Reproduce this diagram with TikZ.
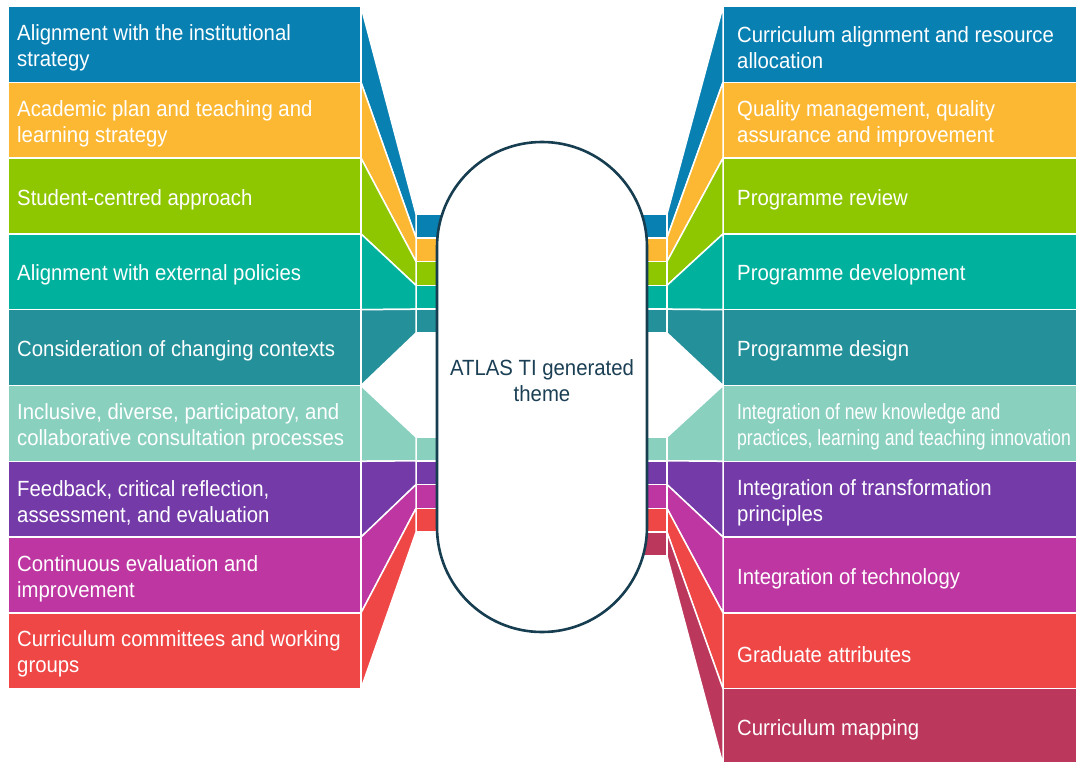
\documentclass[tikz,border=0pt]{standalone}
\usepackage{fontspec}
\setmainfont{Liberation Sans}[FakeStretch=0.925]
\newfontfamily\narrowfont{Liberation Sans}[FakeStretch=0.80]

\definecolor{cA}{RGB}{9,128,178}
\definecolor{cB}{RGB}{253,184,51}
\definecolor{cC}{RGB}{142,198,0}
\definecolor{cD}{RGB}{0,178,157}
\definecolor{cE}{RGB}{36,144,154}
\definecolor{cF}{RGB}{137,208,191}
\definecolor{cG}{RGB}{115,58,168}
\definecolor{cH}{RGB}{189,54,161}
\definecolor{cI}{RGB}{239,70,70}
\definecolor{cJ}{RGB}{187,55,91}
\definecolor{pillline}{RGB}{22,61,80}
\definecolor{pilltext}{RGB}{27,63,84}

\begin{document}
\begin{tikzpicture}[x=1pt,y=-1pt,
  themebox/.style={rectangle, fill=#1, draw=white, line width=1.5pt, outer sep=0pt,
    minimum width=353pt, minimum height=75.8pt, inner sep=0pt},
  themetext/.style={anchor=west, align=left, inner sep=0pt, text=white,
    font=\fontsize{22}{26}\selectfont},
  stripbox/.style={rectangle, fill=#1, draw=white, line width=1.5pt, outer sep=0pt,
    minimum width=44pt, minimum height=23.8pt, inner sep=0pt},
  ribbon/.style={fill=#1, draw=white, line width=1.5pt, line join=round},
]
\useasboundingbox (0,0) rectangle (1083,762);

% themes on the left
\foreach \i/\c/\t in {
  1/cA/{Alignment with the institutional\\strategy},
  2/cB/{Academic plan and teaching and\\learning strategy},
  3/cC/{Student-centred approach},
  4/cD/{Alignment with external policies},
  5/cE/{Consideration of changing contexts},
  6/cF/{Inclusive, diverse, participatory, and\\collaborative consultation processes},
  7/cG/{Feedback, critical reflection,\\assessment, and evaluation},
  8/cH/{Continuous evaluation and\\improvement},
  9/cI/{Curriculum committees and working\\groups}} {
  \node[themebox=\c] (L\i) at (184.5,{44.4+75.8*(\i-1)}) {};
  \node[themetext] (LT\i) at ([xshift=9pt,yshift=-3.5pt]L\i.west) {\t};
}

% themes on the right
\foreach \i/\c/\t in {
  1/cA/{Curriculum alignment and resource\\allocation},
  2/cB/{Quality management, quality\\assurance and improvement},
  3/cC/{Programme review},
  4/cD/{Programme development},
  5/cE/{Programme design},
  6/cF/{\narrowfont Integration of new knowledge and\\\narrowfont practices, learning and teaching innovation},
  7/cG/{Integration of transformation\\principles},
  8/cH/{Integration of technology},
  9/cI/{Graduate attributes},
  10/cJ/{Curriculum mapping}} {
  \node[themebox=\c, minimum width=354pt] (R\i) at (900,{44.4+75.8*(\i-1)}) {};
  \node[themetext] (RT\i) at ([xshift=14pt,yshift=-3.5pt]R\i.west) {\t};
}

% short strips tucked behind the central pill
\foreach \i/\c in {1/cA,2/cB,3/cC,4/cD,5/cE} {
  \node[stripbox=\c] (sL\i) at (438,{225.9+23.8*(\i-1)}) {};
  \node[stripbox=\c, minimum width=42pt] (sR\i) at (646,{225.9+23.8*(\i-1)}) {};
}
\foreach \i/\c in {6/cF,7/cG,8/cH,9/cI} {
  \node[stripbox=\c] (sL\i) at (438,{448.9+23.8*(\i-6)}) {};
  \node[stripbox=\c, minimum width=42pt] (sR\i) at (646,{448.9+23.8*(\i-6)}) {};
}
\node[stripbox=cJ, minimum width=42pt] (sR10) at (646,{448.9+23.8*4}) {};

% ribbons joining each theme box to its strip
\foreach \i/\c in {1/cA,2/cB,3/cC,4/cD,5/cE,6/cF,7/cG,8/cH,9/cI}
  \draw[ribbon=\c] (L\i.north east) -- (sL\i.north west) -- (sL\i.south west)
    -- (L\i.south east) -- cycle;
\foreach \i/\c in {1/cA,2/cB,3/cC,4/cD,5/cE,6/cF,7/cG,8/cH,9/cI,10/cJ}
  \draw[ribbon=\c] (R\i.north west) -- (sR\i.north east) -- (sR\i.south east)
    -- (R\i.south west) -- cycle;

% central pill and its caption
\node[draw=pillline, line width=2.6pt, fill=white, minimum width=210pt,
  minimum height=490pt, rounded corners=104.9pt, inner sep=0pt]
  (theme) at (542,387) {};
\node[text=pilltext, align=center, font=\fontsize{22}{26}\selectfont]
  (captiontext) at ([yshift=6pt]theme.center) {ATLAS TI generated\\theme};
\end{tikzpicture}
\end{document}
